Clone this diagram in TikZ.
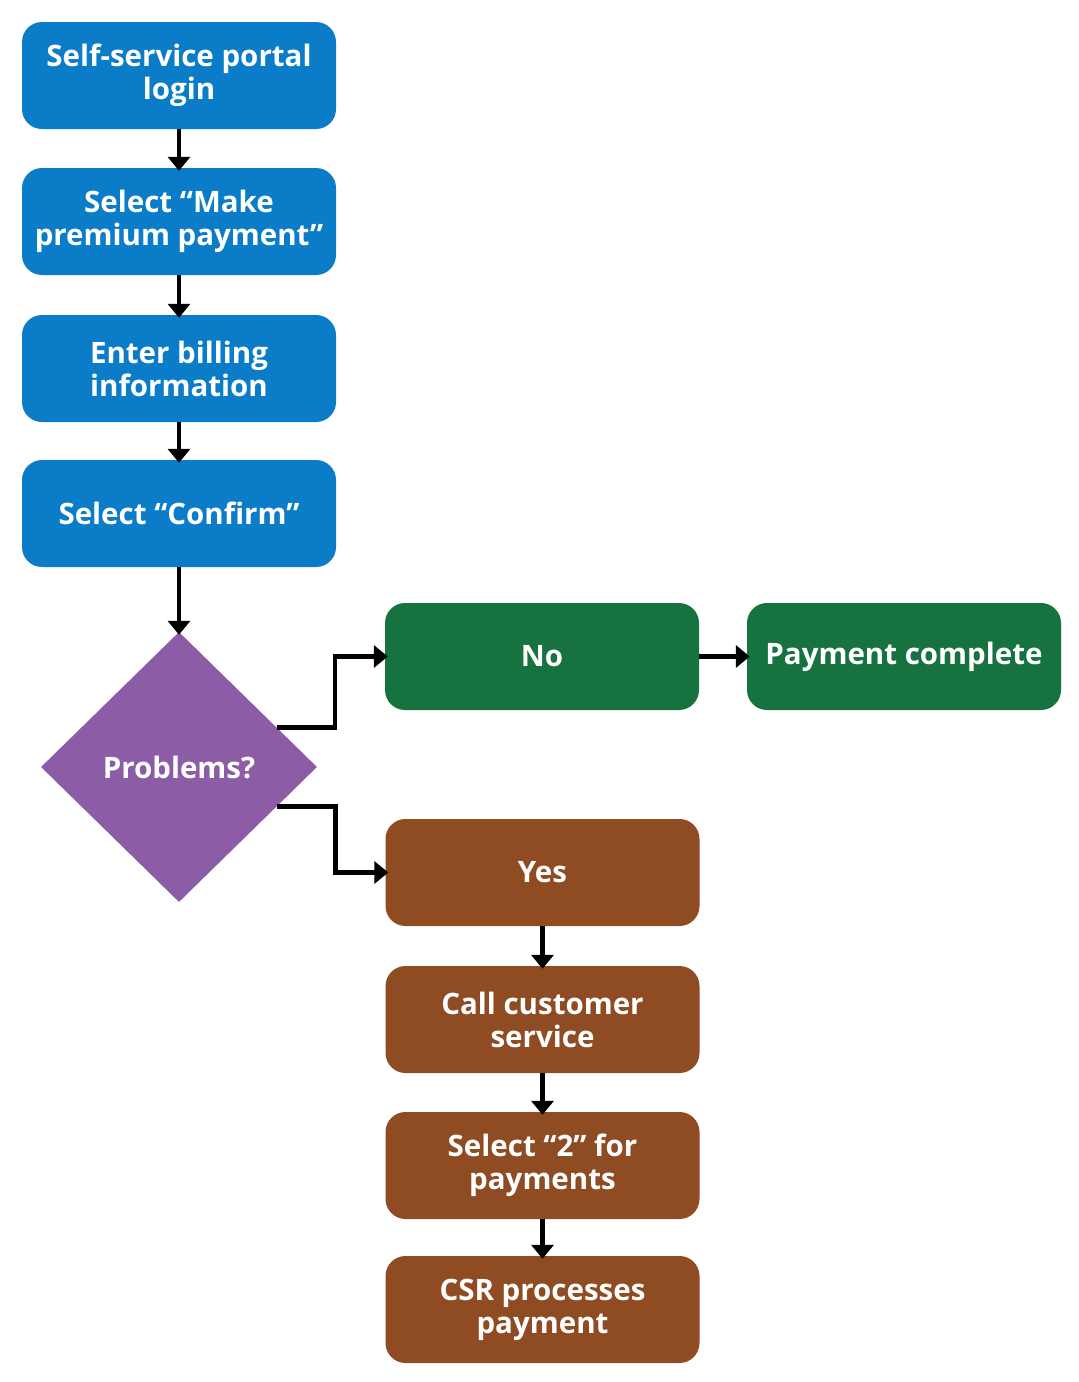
\documentclass[tikz,border=0pt]{standalone}
\usepackage{fontspec}
\setmainfont{Open Sans}[BoldFont={Open Sans Bold}]
\usetikzlibrary{arrows.meta,shapes.geometric}
\definecolor{cblue}{HTML}{0A7CC8}
\definecolor{cgreen}{HTML}{16733F}
\definecolor{cpurple}{HTML}{8C5CA6}
\definecolor{cbrown}{HTML}{8F4C23}
\tikzset{
  stepbox/.style={rectangle, rounded corners=20pt, minimum width=314pt, minimum height=107pt,
    inner sep=0pt, text=white, align=center, font=\bfseries\fontsize{29.5}{33}\selectfont},
  bluebox/.style={stepbox, fill=cblue},
  greenbox/.style={stepbox, fill=cgreen},
  brownbox/.style={stepbox, fill=cbrown},
  decision/.style={diamond, fill=cpurple, minimum width=276pt, minimum height=270pt, inner sep=0pt,
    text=white, font=\bfseries\fontsize{29.5}{33}\selectfont},
  conn/.style={line width=4.5pt, -{Triangle[width=22pt,length=14pt]}, shorten >=-3pt}
}
\begin{document}
\begin{tikzpicture}[x=1pt,y=-1pt]
\useasboundingbox[fill=white] (0,0) rectangle (1079,1382);
\node[bluebox] (b1) at (179,75.5) {Self-service portal\\login};
\node[bluebox] (b2) at (179,221.5) {Select “Make\\premium payment”};
\node[bluebox] (b3) at (179,368.5) {Enter billing\\information};
\node[bluebox] (b4) at (179,513.5) {Select “Confirm”};
\node[decision] (dia) at (179,767) {Problems?};
\node[greenbox] (no) at (542,656.5) {No};
\node[greenbox] (done) at (904,656.5) {Payment complete};
\node[brownbox] (yes) at (542.5,872.5) {Yes};
\node[brownbox] (call) at (542.5,1019.5) {Call customer\\service};
\node[brownbox] (sel2) at (542.5,1165.5) {Select “2” for\\payments};
\node[brownbox] (csr) at (542.5,1309.5) {CSR processes\\payment};
\draw[conn] (b1) -- (b2);
\draw[conn] (b2) -- (b3);
\draw[conn] (b3) -- (b4);
\draw[conn] (b4) -- (dia);
\draw[conn] (dia.22) -| ([xshift=-50pt]no.west) -- (no.west);
\draw[conn] (dia.-22) -| ([xshift=-50pt]yes.west) -- (yes.west);
\draw[conn] (no) -- (done);
\draw[conn] (yes) -- (call);
\draw[conn] (call) -- (sel2);
\draw[conn] (sel2) -- (csr);
\end{tikzpicture}
\end{document}
